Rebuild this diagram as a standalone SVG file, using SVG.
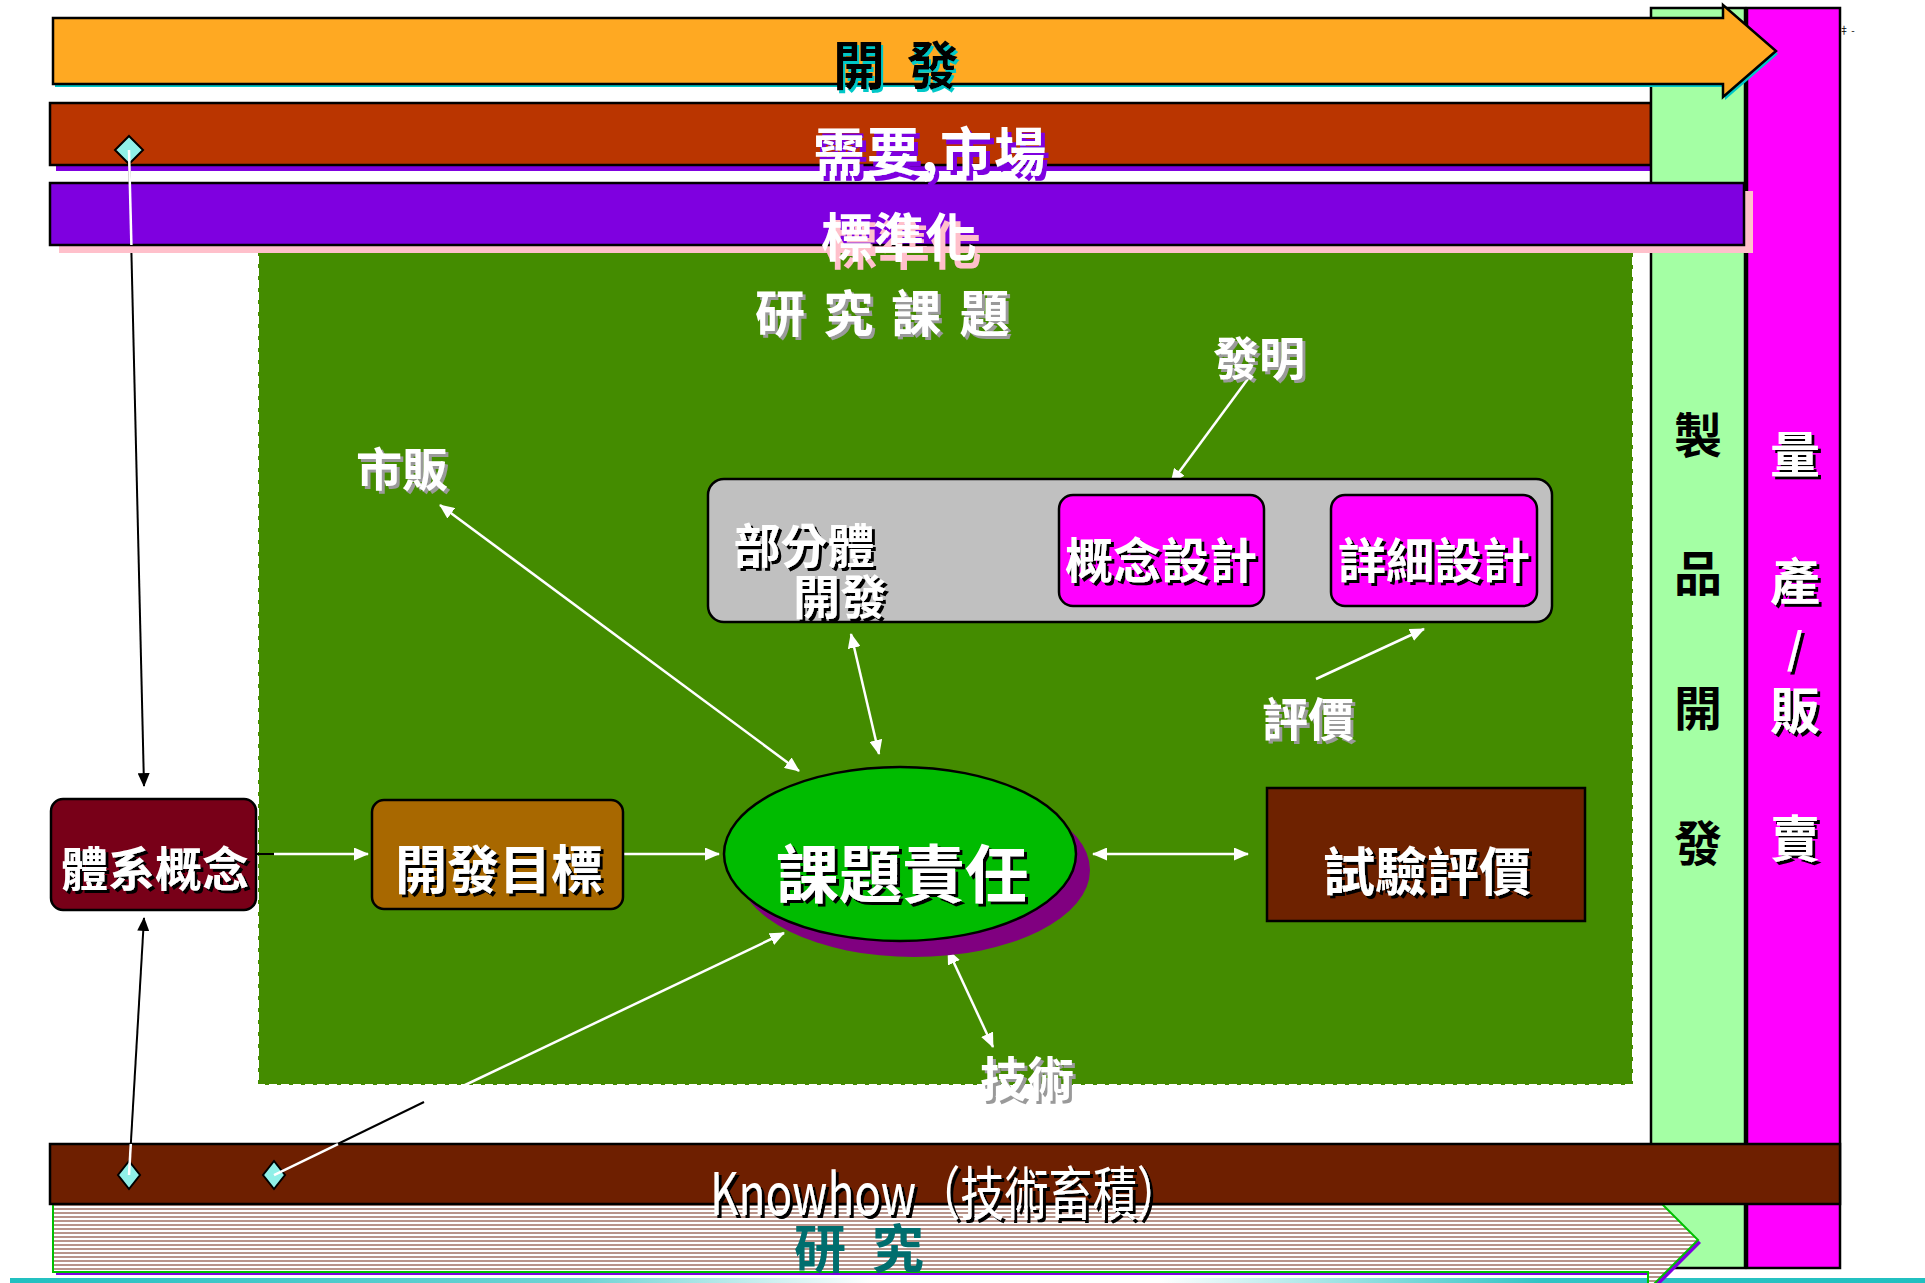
<svg xmlns="http://www.w3.org/2000/svg" width="1925" height="1283" viewBox="0 0 1925 1283">
<style>
.t{font-family:"Noto Sans CJK TC","Noto Sans CJK SC","Noto Sans CJK JP",sans-serif;font-weight:bold}
.n{font-weight:normal}
.c{text-anchor:middle;dominant-baseline:central}
.s{dominant-baseline:central}
.w{fill:#fff}
.k{fill:#000}
.bd{stroke:#000;stroke-width:2.5}
.wl{stroke:#fff;stroke-width:2.5;fill:none}
.bl{stroke:#000;stroke-width:2;fill:none}
.dia{fill:#90F0E8;stroke:#000;stroke-width:2}
</style>
<defs>
<marker id="aw" viewBox="0 0 15 13" refX="14" refY="6.5" markerWidth="15" markerHeight="13" markerUnits="userSpaceOnUse" orient="auto-start-reverse"><path d="M0,0 L15,6.5 L0,13 z" fill="#fff"/></marker>
<marker id="ab" viewBox="0 0 15 13" refX="14" refY="6.5" markerWidth="14" markerHeight="12" markerUnits="userSpaceOnUse" orient="auto-start-reverse"><path d="M0,0 L15,6.5 L0,13 z" fill="#000"/></marker>
<filter id="shb" x="-10%" y="-20%" width="130%" height="150%"><feDropShadow dx="3" dy="3" stdDeviation="0" flood-color="#000"/></filter>
<filter id="shg" x="-10%" y="-20%" width="130%" height="150%"><feDropShadow dx="3" dy="3" stdDeviation="0" flood-color="#9a9a9a"/></filter>
<filter id="shc" x="-10%" y="-20%" width="130%" height="150%"><feDropShadow dx="2" dy="3" stdDeviation="0" flood-color="#00C8C8"/></filter>
<filter id="shp" x="-10%" y="-20%" width="130%" height="150%"><feDropShadow dx="4" dy="5" stdDeviation="0" flood-color="#7F00E0"/></filter>
<filter id="shk" x="-10%" y="-20%" width="130%" height="150%"><feDropShadow dx="5" dy="8" stdDeviation="0" flood-color="#FFC0CB"/></filter>
<pattern id="stripes" width="8" height="4" patternUnits="userSpaceOnUse"><rect width="8" height="4" fill="#fff"/><rect width="8" height="2" fill="#B8948A"/></pattern>
<linearGradient id="cy" x1="0" y1="0" x2="1" y2="0"><stop offset="0" stop-color="#20C0C0"/><stop offset="0.3" stop-color="#70D4D4"/><stop offset="0.45" stop-color="#fff"/><stop offset="0.6" stop-color="#fff"/><stop offset="0.8" stop-color="#30C4C4"/><stop offset="1" stop-color="#20C0C0"/></linearGradient>
</defs>
<rect width="1925" height="1283" fill="#fff"/>
<rect x="10" y="1278" width="1915" height="5" fill="url(#cy)"/>

<g id="connectors-back">
<line class="bl" x1="129" y1="150" x2="144" y2="786" marker-end="url(#ab)"/>
<line class="bl" x1="129" y1="1175" x2="144" y2="918" marker-end="url(#ab)"/>
<line class="bl" x1="274" y1="1175" x2="424" y2="1102"/>
</g>

<g id="research-area">
<rect x="258" y="252" width="1375" height="833" fill="#448C00" stroke="#fff" stroke-width="2" stroke-dasharray="8 4"/>
</g>

<g id="bar-market">
<rect x="56" y="109" width="1595" height="62" fill="#7F00E0"/>
<rect x="50" y="103" width="1601" height="62" fill="#BA3500" class="bd"/>
</g>
<g id="col-product">
<rect x="1651" y="8" width="94" height="1260" fill="#A4FFA4" class="bd"/>
<text class="t c k" font-size="48" x="1698" y="432">製</text>
<text class="t c k" font-size="48" x="1698" y="570">品</text>
<text class="t c k" font-size="48" x="1698" y="705">開</text>
<text class="t c k" font-size="48" x="1698" y="840">發</text>
</g>
<g id="col-mass">
<rect x="1747" y="8" width="93" height="1260" fill="#FF00FF" class="bd"/>
<g filter="url(#shb)">
<text class="t c w" font-size="50" x="1795" y="451">量</text>
<text class="t c w" font-size="50" x="1795" y="578">產</text>
<text class="t c w" font-size="42" x="1795" y="645">/</text>
<text class="t c w" font-size="50" x="1795" y="707">販</text>
<text class="t c w" font-size="50" x="1795" y="835">賣</text>
</g>
</g>
<g id="arrow-dev">
<polygon points="55,21 1725,21 1725,8 1778,54 1725,100 1725,87 55,87" fill="#00C8C8"/>
<polygon points="53,18 1723,18 1723,5 1776,51 1723,97 1723,84 53,84" fill="#FFA922" class="bd"/>
<text class="t s k" font-size="52" x="833" y="62" letter-spacing="5" filter="url(#shc)">開 發</text>
</g>
<text class="t n" font-size="10" x="1839" y="34" fill="#000">‡ -</text>
<g id="bar-standard">
<rect x="59" y="191" width="1694" height="62" fill="#FFC0CB"/>
<rect x="50" y="183" width="1694" height="62" fill="#7F00E0" class="bd"/>
</g>
<text class="t s w" font-size="52" x="813" y="148" letter-spacing="2" filter="url(#shp)">需要,市場</text>
<text class="t c w" font-size="52" x="899" y="234" filter="url(#shk)">標準化</text>

<g id="arrow-research">
<polygon points="56,1198 1651,1198 1651,1193 1701,1243 1651,1293 1651,1275 56,1275" fill="#7F00E0"/>
<polygon points="53,1195 1648,1195 1648,1190 1698,1240 1648,1290 1648,1272 53,1272" fill="url(#stripes)" stroke="#00C000" stroke-width="2"/>
<text class="t s" font-size="52" x="794" y="1245" letter-spacing="7" fill="#006E6E">研 究</text>
</g>
<g id="bar-knowhow">
<rect x="50" y="1144" width="1790" height="60" fill="#6E1F00" class="bd"/>
<text class="t n s w" font-size="58" x="710" y="1190" textLength="471" lengthAdjust="spacingAndGlyphs" filter="url(#shb)">Knowhow（技術畜積）</text>
</g>

<g id="diamonds">
<polygon class="dia" points="129,136 143,150 129,164 115,150"/>
<polygon class="dia" points="129,1161 140,1175 129,1189 118,1175"/>
<polygon class="dia" points="274,1161 285,1175 274,1189 263,1175"/>
</g>

<g id="connectors">
<line class="wl" x1="129" y1="150" x2="131.4" y2="245"/>
<line class="wl" x1="129" y1="1175" x2="130.8" y2="1144"/>
<line class="wl" x1="274" y1="1175" x2="338" y2="1144"/>
<line class="wl" x1="463" y1="1086" x2="784" y2="933" marker-end="url(#aw)"/>
<line class="bl" x1="242" y1="854" x2="274" y2="854" stroke-width="2.5"/>
<line class="wl" x1="274" y1="854" x2="368" y2="854" marker-end="url(#aw)"/>
<line class="wl" x1="623" y1="854" x2="719" y2="854" marker-end="url(#aw)"/>
<line class="wl" x1="1093" y1="854" x2="1248" y2="854" marker-start="url(#aw)" marker-end="url(#aw)"/>
<line class="wl" x1="440" y1="505" x2="799" y2="771" marker-start="url(#aw)" marker-end="url(#aw)"/>
<line class="wl" x1="851" y1="634" x2="879" y2="754" marker-start="url(#aw)" marker-end="url(#aw)"/>
<line class="wl" x1="948" y1="950" x2="993" y2="1047" marker-start="url(#aw)" marker-end="url(#aw)"/>
<line class="wl" x1="1250" y1="376" x2="1171" y2="483" marker-end="url(#aw)"/>
<line class="wl" x1="1316" y1="679" x2="1424" y2="629" marker-end="url(#aw)"/>
</g>

<g id="labels" filter="url(#shg)">
<text class="t s w" font-size="50" x="755" y="310" letter-spacing="3.4">研 究 課 題</text>
<text class="t c w" font-size="46" x="1259" y="355">發明</text>
<text class="t c w" font-size="46" x="402" y="466">市販</text>
<text class="t c w" font-size="46" x="1308" y="716">評價</text>
<text class="t c w" font-size="47" x="1027" y="1075">技術</text>
</g>

<g id="node-subsystem">
<rect x="708" y="479" width="844" height="143" rx="16" fill="#C0C0C0" class="bd"/>
<g filter="url(#shb)">
<text class="t c w" font-size="47" x="804" y="542">部分體</text>
<text class="t c w" font-size="47" x="840" y="593">開發</text>
</g>
</g>
<g id="node-concept">
<rect x="1059" y="495" width="205" height="111" rx="14" fill="#FF00FF" class="bd"/>
<text class="t c w" font-size="48" x="1161" y="557" filter="url(#shb)">概念設計</text>
</g>
<g id="node-detail">
<rect x="1331" y="495" width="206" height="111" rx="14" fill="#FF00FF" class="bd"/>
<text class="t c w" font-size="48" x="1434" y="557" filter="url(#shb)">詳細設計</text>
</g>
<g id="node-system">
<rect x="51" y="799" width="205" height="111" rx="12" fill="#780018" class="bd"/>
<text class="t c w" font-size="47" x="155" y="865" filter="url(#shb)">體系概念</text>
</g>
<g id="node-goal">
<rect x="372" y="800" width="251" height="109" rx="12" fill="#A86800" class="bd"/>
<text class="t c w" font-size="52" x="499" y="866" filter="url(#shb)">開發目標</text>
</g>
<g id="node-task">
<ellipse cx="914" cy="870" rx="176" ry="87" fill="#800080"/>
<ellipse cx="900" cy="854" rx="176" ry="87" fill="#00BB00" class="bd"/>
<text class="t c w" font-size="63" x="902" y="869" filter="url(#shb)">課題責任</text>
</g>
<g id="node-test">
<rect x="1267" y="788" width="318" height="133" fill="#6E2200" class="bd"/>
<text class="t c w" font-size="52" x="1427" y="868" filter="url(#shb)">試驗評價</text>
</g>
</svg>
